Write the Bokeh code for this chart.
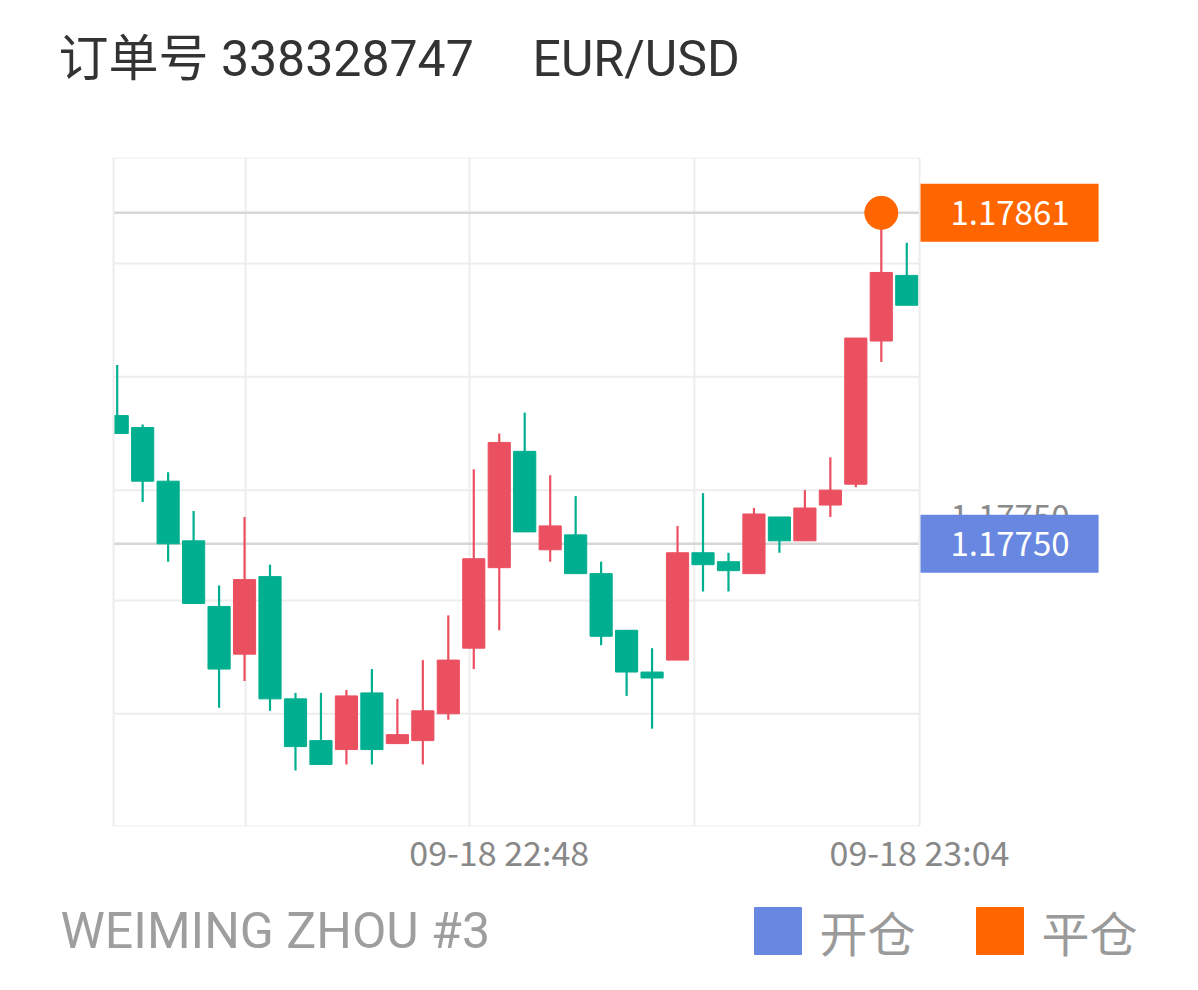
from bokeh.plotting import figure
from bokeh.layouts import column
from bokeh.models import Range1d, FixedTicker, Label, ColumnDataSource
from bokeh.core.properties import value
from bokeh.embed import file_html
from bokeh.resources import INLINE

# ---------------- data ----------------
times = ["22:33", "22:34", "22:35", "22:36", "22:37", "22:38", "22:39", "22:40",
         "22:41", "22:42", "22:43", "22:44", "22:45", "22:46", "22:47", "22:48",
         "22:49", "22:50", "22:51", "22:52", "22:53", "22:54", "22:55", "22:56",
         "22:57", "22:58", "22:59", "23:00", "23:01", "23:02", "23:03", "23:04"]
opens = [1.17793, 1.17789, 1.17771, 1.17751, 1.17729, 1.17713, 1.17739, 1.17698,
         1.17684, 1.17681, 1.17700, 1.17683, 1.17684, 1.17693, 1.17715, 1.17742,
         1.17781, 1.17748, 1.17753, 1.17740, 1.17721, 1.17707, 1.17711, 1.17747,
         1.17744, 1.17740, 1.17759, 1.17751, 1.17763, 1.17770, 1.17818, 1.17840]
highs = [1.17810, 1.17790, 1.17774, 1.17761, 1.17736, 1.17759, 1.17743, 1.17700,
         1.17700, 1.17701, 1.17708, 1.17698, 1.17711, 1.17726, 1.17775, 1.17787,
         1.17794, 1.17773, 1.17766, 1.17744, 1.17721, 1.17715, 1.17756, 1.17767,
         1.17747, 1.17762, 1.17759, 1.17768, 1.17779, 1.17819, 1.17861, 1.17851]
lows = [1.17787, 1.17764, 1.17744, 1.17730, 1.17695, 1.17704, 1.17694, 1.17674,
        1.17676, 1.17676, 1.17676, 1.17683, 1.17676, 1.17691, 1.17708, 1.17721,
        1.17754, 1.17744, 1.17740, 1.17716, 1.17699, 1.17688, 1.17711, 1.17734,
        1.17734, 1.17740, 1.17747, 1.17751, 1.17759, 1.17769, 1.17811, 1.17830]
closes = [1.17787, 1.17771, 1.17750, 1.17730, 1.17708, 1.17738, 1.17698, 1.17682,
          1.17676, 1.17699, 1.17681, 1.17686, 1.17694, 1.17711, 1.17745, 1.17784,
          1.17754, 1.17756, 1.17740, 1.17719, 1.17707, 1.17705, 1.17747, 1.17743,
          1.17741, 1.17760, 1.17751, 1.17762, 1.17768, 1.17819, 1.17841, 1.17830]

open_price = 1.17750      # 开仓
close_price = 1.17861     # 平仓
close_time = "23:03"

x_tick_times = ["22:48", "23:04"]
x_tick_labels = ["09-18 22:48", "09-18 23:04"]
y_grid_values = [1.17693, 1.17731, 1.17768, 1.17806, 1.17844]
x_grid_values = [5.04, 13.83, 22.66]

order_no = "338328747"
symbol = "EUR/USD"
account = "WEIMING ZHOU #3"
legend_labels = ["开仓", "平仓"]

# ---------------- style ----------------
UP = "#EB5061"
DOWN = "#00AF8F"
BLUE = "#6787E0"
ORANGE = "#FF6600"
GRID = "#ededed"
PRICE_LINE = "#d6d6d6"
CJK = "Noto Sans CJK SC"
LATIN = "Roboto, 'Noto Sans CJK SC'"

W = 1190
HEAD_H, MAIN_H, FOOT_H = 110, 780, 95
CHART_L, FRAME_T, FRAME_B = 113, 47, 64
CHART_W = 806

X0, XC = -0.145, 31.5                      # chart area: x from X0 to XC
UNIT = CHART_W / (XC - X0)                 # pixels per candle slot
X_START = X0 - CHART_L / UNIT              # frame spans full width
X_END = X0 + (W - CHART_L) / UNIT
Y0, Y1 = 1.1765520, 1.1787955


def blank(height):
    f = figure(width=W, height=height, x_range=Range1d(0, W), y_range=Range1d(height, 0),
               x_axis_location=None, y_axis_location=None, min_border=0,
               output_backend="svg", toolbar_location=None)
    f.grid.visible = False
    f.outline_line_color = None
    return f


# ---------------- header ----------------
head = blank(HEAD_H)
head.text(x=[58], y=[58], text=[f"订单号 {order_no}"], text_font=value(LATIN),
          text_font_size="50px", text_color="#333333", text_baseline="middle")
head.text(x=[532], y=[58], text=[symbol], text_font=value(LATIN),
          text_font_size="50px", text_color="#333333", text_baseline="middle")

# ---------------- main chart ----------------
idx = list(range(len(times)))
colors = [UP if c >= o else DOWN for o, c in zip(opens, closes)]
src = ColumnDataSource(dict(
    x=idx, high=highs, low=lows,
    top=[max(o, c) for o, c in zip(opens, closes)],
    bottom=[min(o, c) for o, c in zip(opens, closes)],
    color=colors,
))

p = figure(width=W, height=MAIN_H,
           x_range=Range1d(X_START, X_END), y_range=Range1d(Y0, Y1),
           y_axis_location=None,
           output_backend="svg", toolbar_location=None,
           min_border_left=0, min_border_top=FRAME_T,
           min_border_right=0, min_border_bottom=FRAME_B)
p.grid.visible = False
p.outline_line_color = None

# grid lines (limited to the chart area)
p.segment(x0=[X0] * len(y_grid_values), x1=[XC] * len(y_grid_values),
          y0=y_grid_values, y1=y_grid_values, line_color=GRID, line_width=2)
p.segment(x0=x_grid_values, x1=x_grid_values, y0=[Y0] * len(x_grid_values),
          y1=[Y1] * len(x_grid_values), line_color=GRID, line_width=2)

# x axis
tick_pos = [times.index(x_tick_times[0]), times.index(x_tick_times[1]) + 0.5]
p.xaxis.ticker = FixedTicker(ticks=tick_pos)
p.xaxis.major_label_overrides = {tick_pos[0]: x_tick_labels[0], tick_pos[1]: x_tick_labels[1]}
p.xaxis.axis_line_color = None
p.xaxis.major_tick_line_color = None
p.xaxis.minor_tick_line_color = None
p.xaxis.major_tick_out = 0
p.xaxis.major_label_standoff = 0
p.xaxis.major_label_text_font = CJK
p.xaxis.major_label_text_font_size = "34px"
p.xaxis.major_label_text_color = "#888888"

# open / close price lines
p.segment(x0=[X0, X0], x1=[XC, XC], y0=[open_price, close_price], y1=[open_price, close_price],
          line_color=PRICE_LINE, line_width=2.5)

# candles
p.segment(x0="x", y0="high", x1="x", y1="low", line_color="color", line_width=2.2, source=src)
p.vbar(x="x", width=0.87, top="top", bottom="bottom", fill_color="color",
       line_color="color", line_width=1, source=src)

# clip candles at the left edge of the chart area, then draw the chart border
p.quad(left=[X_START], right=[X0], bottom=[Y0], top=[Y1], fill_color="white",
       line_color=None)
p.quad(left=[X0], right=[XC], bottom=[Y0], top=[Y1], fill_color=None,
       line_color=GRID, line_width=2)

# close marker
p.scatter(x=[times.index(close_time)], y=[close_price], size=33,
          fill_color=ORANGE, line_color=ORANGE)

# right price tags
p.add_layout(Label(x=XC, y=open_price, x_offset=31, y_offset=27,
                   text=f"{open_price:.5f}", text_font=CJK, text_font_size="33px",
                   text_color="#8a8a8a", text_align="left", text_baseline="middle"))
for price, col in [(open_price, BLUE), (close_price, ORANGE)]:
    p.add_layout(Label(x=XC, y=price, x_offset=1, y_offset=0,
                       text=f"{price:.5f}", text_font=CJK, text_font_size="33px",
                       text_color="white", text_align="left", text_baseline="middle",
                       background_fill_color=col, background_fill_alpha=1.0,
                       padding=dict(left=30, right=29, top=17, bottom=17)))

# ---------------- footer ----------------
foot = blank(FOOT_H)
foot.text(x=[60], y=[40], text=[account], text_font=value(LATIN),
          text_font_size="50px", text_color="#9e9e9e", text_baseline="middle")
foot.rect(x=[777.5, 999.5], y=[40.5, 40.5], width=47, height=47,
          width_units="screen", height_units="screen",
          fill_color=[BLUE, ORANGE], line_color=[BLUE, ORANGE])
foot.text(x=[819, 1041], y=[40.5, 40.5], text=legend_labels, text_font=value(CJK),
          text_font_size="48px", text_color="#9a9a9a", text_baseline="middle")

layout = column(head, p, foot, spacing=0)
open("out.html", "w").write(file_html(layout, INLINE))
